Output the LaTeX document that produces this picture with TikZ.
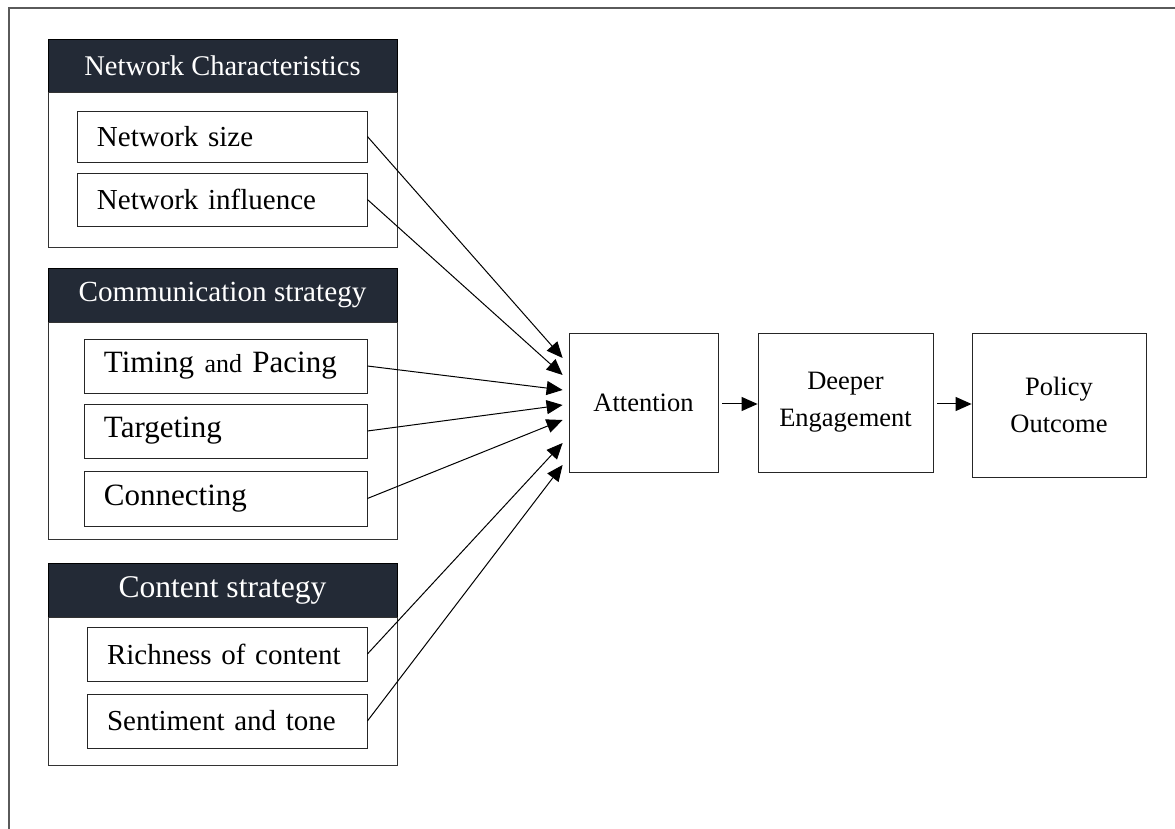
\documentclass[tikz,border=0pt]{standalone}
\usepackage{fontspec}
\setmainfont{Liberation Serif}
\usetikzlibrary{arrows.meta}
\definecolor{hdrblue}{HTML}{232A36}
\definecolor{framegray}{HTML}{5A5A5A}

\begin{document}
\begin{tikzpicture}[x=0.5pt,y=-0.5pt,
  hdr/.style={draw=black,fill=hdrblue,text=white,minimum width=174.5pt,inner sep=0pt},
  grp/.style={draw=black!80,minimum width=174.5pt,inner sep=0pt},
  item/.style={draw=black!85,inner xsep=10pt,inner ysep=0pt,align=left},
  stage/.style={draw=black!85,align=center,inner sep=0pt,font=\fontsize{13.25}{18.5}\selectfont},
  link/.style={-{Triangle[length=8pt,width=7pt]},line width=0.5pt}]
  \useasboundingbox (0,0) rectangle (1175,829);
  \draw[framegray,line width=1pt] (9,829) -- (9,8) -- (1175,8);

  % network characteristics
  \node[hdr,minimum height=26.5pt,font=\fontsize{14.25}{17}\selectfont] (nethdr) at (222.5,65.5) {Network Characteristics};
  \node[grp,minimum height=77.5pt] (netgrp) at (222.5,169.5) {};
  \node[item,text width=125pt,minimum height=25.5pt,font=\fontsize{14.5}{17}\selectfont] (nsize) at (222,136.5) {Network size};
  \node[item,text width=125pt,minimum height=26.5pt,font=\fontsize{14.5}{17}\selectfont] (ninfl) at (222,199.5) {Network influence};

  % communication strategy
  \node[hdr,minimum height=27pt,font=\fontsize{14.6}{17}\selectfont] (comhdr) at (222.5,295) {Communication strategy};
  \node[grp,minimum height=108.5pt] (comgrp) at (222.5,430.5) {};
  \node[item,text width=121.5pt,minimum height=27pt,font=\fontsize{15.5}{18}\selectfont] (timing) at (225.5,366) {Timing {\fontsize{13}{15}\selectfont and} Pacing};
  \node[item,text width=121.5pt,minimum height=27pt,font=\fontsize{15.5}{18}\selectfont] (target) at (225.5,431) {Targeting};
  \node[item,text width=121.5pt,minimum height=27.5pt,font=\fontsize{15.5}{18}\selectfont] (connect) at (225.5,498.5) {Connecting};

  % content strategy
  \node[hdr,minimum height=27pt,font=\fontsize{15.8}{18}\selectfont] (conhdr) at (222.5,590) {Content strategy};
  \node[grp,minimum height=74pt] (congrp) at (222.5,691) {};
  \node[item,text width=120pt,minimum height=27pt,font=\fontsize{14.5}{17}\selectfont] (rich) at (227,654) {Richness of content};
  \node[item,text width=120pt,minimum height=27pt,font=\fontsize{14.5}{17}\selectfont] (senti) at (227,721) {Sentiment and tone};

  % outcome chain
  \node[stage,minimum width=74.5pt,minimum height=69.5pt] (att) at (643.5,402.5) {Attention};
  \node[stage,minimum width=87.5pt,minimum height=69.5pt] (deep) at (845.5,402.5) {Deeper\\Engagement};
  \node[stage,minimum width=87pt,minimum height=72pt] (pol) at (1059,405) {Policy\\Outcome};

  \draw[link] (nsize.east) -- ([xshift=-3pt,yshift=22.25pt]att.west);
  \draw[link] (ninfl.east) -- ([xshift=-3pt,yshift=13.75pt]att.west);
  \draw[link] (timing.east) -- ([xshift=-3pt,yshift=6.25pt]att.west);
  \draw[link] (target.east) -- ([xshift=-3pt,yshift=-1.25pt]att.west);
  \draw[link] (connect.east) -- ([xshift=-3pt,yshift=-8.75pt]att.west);
  \draw[link] (rich.east) -- ([xshift=-3pt,yshift=-20.25pt]att.west);
  \draw[link] (senti.east) -- ([xshift=-3pt,yshift=-31.25pt]att.west);

  \draw[link,shorten <=2pt] ([yshift=-0.75pt]att.east) -- ([yshift=-0.75pt]deep.west);
  \draw[link,shorten <=2pt] ([yshift=-0.75pt]deep.east) -- ([yshift=-0.75pt]deep.east -| pol.west);
\end{tikzpicture}
\end{document}
